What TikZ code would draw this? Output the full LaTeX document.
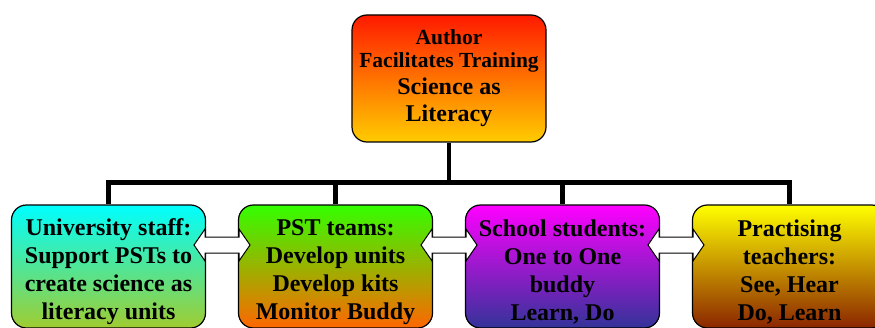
\documentclass[tikz,border=0pt]{standalone}
\usepackage{fontspec}
\setmainfont{Liberation Serif}
\usetikzlibrary{calc}
\definecolor{AUTHTOP}{HTML}{FF1A00}
\definecolor{AUTHBOT}{HTML}{FFCC00}
\definecolor{STAFFTOP}{HTML}{00FFFF}
\definecolor{STAFFBOT}{HTML}{A0CC30}
\definecolor{PSTTOP}{HTML}{33FF00}
\definecolor{PSTBOT}{HTML}{FF6600}
\definecolor{SCHTOP}{HTML}{FF00FF}
\definecolor{SCHBOT}{HTML}{333399}
\definecolor{TEACHTOP}{HTML}{FFFF00}
\definecolor{TEACHBOT}{HTML}{8B2500}
\newcommand{\smallline}{\fontsize{21.5}{23}\selectfont}
\newcommand{\bigline}{\fontsize{24}{28}\selectfont}

\begin{document}
\begin{tikzpicture}[x=1pt, y=1pt,
        box/.style={draw, line width=1.2pt, rounded corners=15pt,
                    minimum width=194pt, minimum height=123pt, inner sep=0pt,
                    align=center, font=\bfseries\bigline},
        link/.style={line width=4.5pt, line join=miter},
        swap/.style={draw, fill=white, line width=1pt, line join=miter}
      ]
        \clip (0,0) rectangle (875,327);
        \node[box, minimum height=127pt, top color=AUTHTOP, bottom color=AUTHBOT] (author) at (449,248.5)
              {\smallline Author\\[-5pt]\smallline Facilitates Training\\[-1pt]Science as\\[-1pt]Literacy};
        \node[box, top color=STAFFTOP, bottom color=STAFFBOT] (staff)  at (108.5,60.5)
              {\\University staff:\\Support PSTs to\\create science as\\literacy units};
        \node[box, top color=PSTTOP, bottom color=PSTBOT]     (pst)    at (335.5,60.5)
              {\\PST teams:\\Develop units\\Develop kits\\Monitor Buddy};
        \node[box, top color=SCHTOP, bottom color=SCHBOT]     (school) at (562.5,60.5)
              {\\School students:\\One to One\\buddy\\Learn, Do};
        \node[box, top color=TEACHTOP, bottom color=TEACHBOT] (teach)  at (789.5,60.5)
              {\\Practising\\teachers:\\See, Hear\\Do, Learn};
        \coordinate (hub) at ($(author.south)+(0,-40)$);
        \draw[link] (author.south) -- (hub);
        \foreach \n in {staff, pst, school, teach}
          \draw[link] (hub) -| (\n.north);
        % double arrows between neighbouring boxes
        \foreach \a/\b in {staff/pst, pst/school, school/teach} {
          \coordinate (mid) at ($($(\a.east)!0.5!(\b.west)$)+(0,21.5)$);
          \draw[swap] ($(mid)+(-28,0)$) -- ++(11,16) -- ++(0,-8) -- ++(34,0)
                -- ++(0,8) -- ++(11,-16) -- ++(-11,-16) -- ++(0,8) -- ++(-34,0)
                -- ++(0,-8) -- cycle;
        }
      \end{tikzpicture}
\end{document}
